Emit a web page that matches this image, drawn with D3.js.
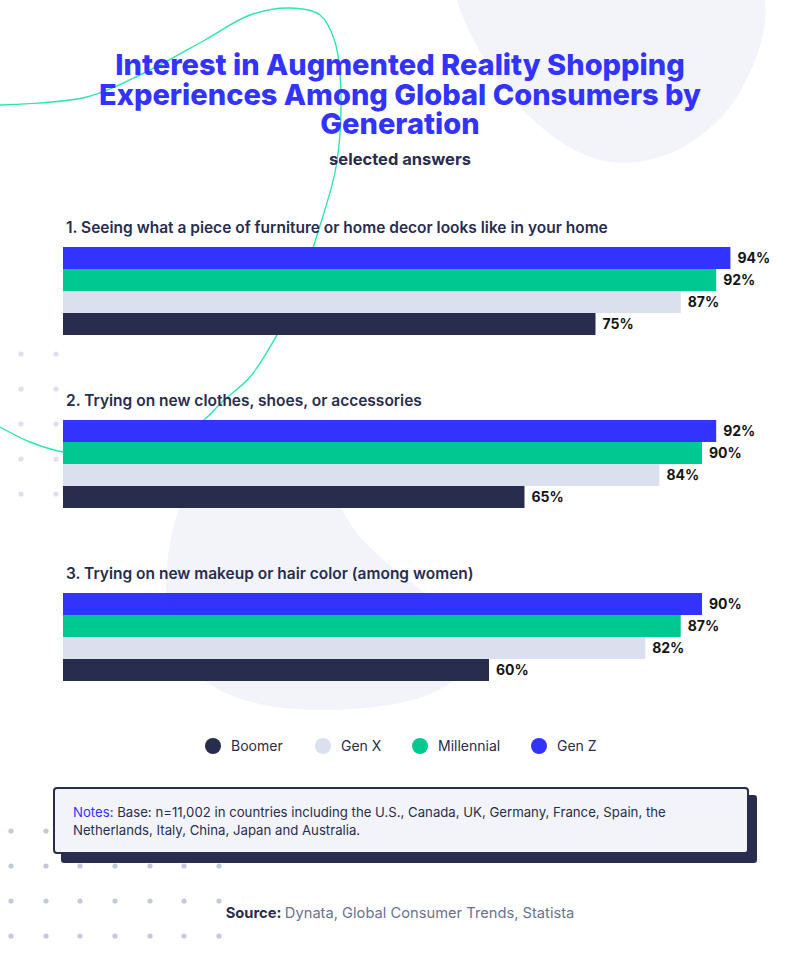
<!DOCTYPE html>
<html>
<head>
<meta charset="utf-8">
<script src="https://cdn.jsdelivr.net/npm/d3@7"></script>
<style>
  html, body { margin: 0; padding: 0; background: #fff; }
  svg { display: block; }
  text { font-family: Inter, "Noto Sans", sans-serif; }
</style>
</head>
<body>
<svg id="chart" width="800" height="968"></svg>
<script>
// ---- Data ----
const questions = [
  "1. Seeing what a piece of furniture or home decor looks like in your home",
  "2. Trying on new clothes, shoes, or accessories",
  "3. Trying on new makeup or hair color (among women)"
];
const seriesNames = ["Gen Z", "Millennial", "Gen X", "Boomer"];
const genZ = [94, 92, 90];
const millennial = [92, 90, 87];
const genX = [87, 84, 82];
const boomer = [75, 65, 60];
const legendOrder = ["Boomer", "Gen X", "Millennial", "Gen Z"];
const colors = { "Gen Z": "#3333ff", "Millennial": "#00c891", "Gen X": "#dae0ee", "Boomer": "#282d4e" };
const titleLines = [
  "Interest in Augmented Reality Shopping",
  "Experiences Among Global Consumers by",
  "Generation"
];
const subtitle = "selected answers";
const notesText = ["Base: n=11,002 in countries including the U.S., Canada, UK, Germany, France, Spain, the",
                   "Netherlands, Italy, China, Japan and Australia."];
const sourceText = "Dynata, Global Consumer Trends, Statista";

const valuesBySeries = { "Gen Z": genZ, "Millennial": millennial, "Gen X": genX, "Boomer": boomer };

const svg = d3.select("#chart");
const dark = "#282d4e";

// ---- Background decorations ----
svg.append("path")
  .attr("d", "M457,0 C470,45 520,130 590,157 C640,175 700,150 735,100 C760,60 768,25 765,0 Z")
  .attr("fill", "#f3f4f9");
svg.append("path")
  .attr("d", "M185,495 C205,460 320,465 345,515 C372,565 430,585 460,630 C485,675 440,708 330,710 C250,712 180,690 168,620 C162,575 170,525 185,495 Z")
  .attr("fill", "#f3f4f9");

// dots
const dotsUpper = svg.append("g").attr("fill", "#dde1ee");
[354, 389, 424, 459, 494].forEach(y => [21, 56].forEach(x =>
  dotsUpper.append("circle").attr("cx", x).attr("cy", y).attr("r", 2.6)));
const dotsLower = svg.append("g").attr("fill", "#c3cadb");
[[831, 2], [866, 7], [901, 7], [936, 7]].forEach(([y, n]) => {
  [11, 46, 80, 115, 150, 184, 219].slice(0, n).forEach(x =>
    dotsLower.append("circle").attr("cx", x).attr("cy", y).attr("r", 2.6));
});

// green curve
const curvePts = [[0,105],[87,97],[144,73],[205,40],[250,15],[290,8],[320,15],[335,42],[341,100],[336,167],[318,232],[298,292],[277,335],[250,377],[223,401],[200,423],[150,446],[100,455],[63,452],[30,442],[0,427]];
svg.append("path")
  .attr("d", d3.line().curve(d3.curveCatmullRom)(curvePts))
  .attr("fill", "none").attr("stroke", "#2ee6ad").attr("stroke-width", 1.4);

// ---- Title ----
svg.append("g").selectAll("text").data(titleLines).join("text")
  .attr("x", 400).attr("y", (d, i) => 75 + i * 29.5)
  .attr("text-anchor", "middle")
  .attr("font-size", 29).attr("font-weight", 800)
  .attr("fill", "#3333ff")
  .text(d => d);
svg.append("text").attr("x", 400).attr("y", 165).attr("text-anchor", "middle")
  .attr("font-size", 16.5).attr("font-weight", 700).attr("fill", dark).text(subtitle);

// ---- Scales ----
const x = d3.scaleLinear().domain([0, 100]).range([63, 773]);
const yGroup = d3.scaleBand().domain(questions).range([247, 247 + 173 * 3]).paddingInner(0).paddingOuter(0);
const yInner = d3.scaleBand().domain(seriesNames).range([0, 88]).padding(0);

const groups = svg.append("g").selectAll("g").data(questions).join("g")
  .attr("transform", d => `translate(0,${yGroup(d)})`);

groups.append("text")
  .attr("x", 66).attr("y", -14)
  .attr("font-size", 15.5).attr("font-weight", 600).attr("fill", dark)
  .text(d => d);

groups.each(function(q, qi) {
  const g = d3.select(this);
  const rows = seriesNames.map(s => ({ s, v: valuesBySeries[s][qi] }));
  g.selectAll("rect").data(rows).join("rect")
    .attr("x", x(0)).attr("y", d => yInner(d.s))
    .attr("width", d => x(d.v) - x(0)).attr("height", yInner.bandwidth())
    .attr("fill", d => colors[d.s]);
  g.selectAll("text.val").data(rows).join("text").attr("class", "val")
    .attr("x", d => x(d.v) + 7).attr("y", d => yInner(d.s) + yInner.bandwidth() / 2 + 5)
    .attr("font-size", 14).attr("font-weight", 700).attr("fill", "#151515")
    .text(d => d.v + "%");
});

// ---- Legend ----
const legendX = [213, 323, 420, 539];
const legend = svg.append("g").selectAll("g").data(legendOrder).join("g")
  .attr("transform", (d, i) => `translate(${legendX[i]},746)`);
legend.append("circle").attr("r", 8).attr("fill", d => colors[d]);
legend.append("text").attr("x", 18).attr("y", 5).attr("font-size", 14)
  .attr("fill", dark).text(d => d);

// ---- Notes box ----
svg.append("rect").attr("x", 61).attr("y", 795).attr("width", 696).attr("height", 68)
  .attr("rx", 3).attr("fill", dark);
svg.append("rect").attr("x", 54).attr("y", 788).attr("width", 694).attr("height", 65)
  .attr("rx", 3).attr("fill", "#f3f4fa").attr("stroke", dark).attr("stroke-width", 2);
const notes = svg.append("text").attr("x", 73).attr("y", 817).attr("font-size", 13.2).attr("fill", dark);
notes.append("tspan").attr("fill", "#3333ff").text("Notes: ");
notes.append("tspan").text(notesText[0]);
svg.append("text").attr("x", 73).attr("y", 835).attr("font-size", 13.2).attr("fill", dark).text(notesText[1]);

// ---- Source ----
const src = svg.append("text").attr("x", 400).attr("y", 918).attr("text-anchor", "middle").attr("font-size", 14.7);
src.append("tspan").attr("font-weight", 700).attr("fill", dark).text("Source: ");
src.append("tspan").attr("fill", "#6b7290").text(sourceText);
</script>
</body>
</html>
